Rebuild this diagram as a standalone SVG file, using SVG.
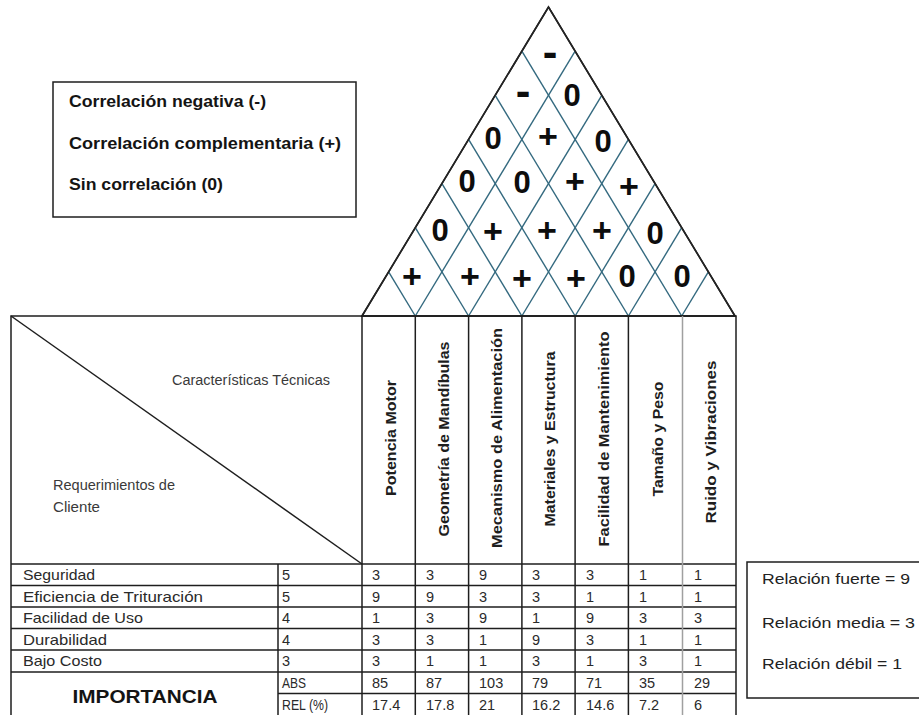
<svg xmlns="http://www.w3.org/2000/svg" width="919" height="715" viewBox="0 0 919 715">
<style>
text{font-family:"Liberation Sans",Arial,sans-serif;}
.frame{fill:none;stroke:#1e1e1e;stroke-width:1.5;}
.roof{fill:#fff;stroke:#232323;stroke-width:1.6;stroke-linejoin:miter;}
.grid{stroke:#33697f;stroke-width:1.4;fill:none;}
.tl{stroke:#1e1e1e;stroke-width:1.5;}
.tlg{stroke:#a0a0a0;stroke-width:1.5;}
.sym{font-weight:bold;font-size:31px;fill:#0d0d0d;text-anchor:middle;}
.plus{font-weight:bold;font-size:34px;fill:#0d0d0d;text-anchor:middle;}
.dash{font-weight:bold;font-size:44px;fill:#0d0d0d;text-anchor:middle;}
.leg{font-weight:bold;font-size:16px;fill:#141414;}
.rleg{font-size:15px;fill:#222;}
.hdr{font-weight:bold;font-size:14.5px;fill:#1e1e1e;text-anchor:middle;}
.cell{font-size:14.5px;fill:#2a2a2a;}
.lbl{font-size:14.5px;fill:#2a2a2a;}
.corner{font-size:14px;fill:#3a3a3a;}
.imp{font-weight:bold;font-size:18px;fill:#141414;text-anchor:middle;}
</style>
<rect x="0" y="0" width="919" height="715" fill="#ffffff"/>

<g id="legend-correlacion">
<rect class="frame" x="53" y="82" width="303" height="135"/>
<text class="leg" x="69" y="107" textLength="197" lengthAdjust="spacingAndGlyphs">Correlación negativa (-)</text>
<text class="leg" x="69" y="149" textLength="272" lengthAdjust="spacingAndGlyphs">Correlación complementaria (+)</text>
<text class="leg" x="69" y="190" textLength="154" lengthAdjust="spacingAndGlyphs">Sin correlación (0)</text>
</g>

<g id="roof">
<polygon class="roof" points="362,316 548.5,7 735,316"/>
<g class="grid">
<line x1="415.29" y1="316" x2="575.14" y2="51.14"/>
<line x1="468.57" y1="316" x2="601.79" y2="95.29"/>
<line x1="521.86" y1="316" x2="628.43" y2="139.43"/>
<line x1="575.14" y1="316" x2="655.07" y2="183.57"/>
<line x1="628.43" y1="316" x2="681.71" y2="227.71"/>
<line x1="681.71" y1="316" x2="708.36" y2="271.86"/>
<line x1="415.29" y1="316" x2="388.64" y2="271.86"/>
<line x1="468.57" y1="316" x2="415.29" y2="227.71"/>
<line x1="521.86" y1="316" x2="441.93" y2="183.57"/>
<line x1="575.14" y1="316" x2="468.57" y2="139.43"/>
<line x1="628.43" y1="316" x2="495.21" y2="95.29"/>
<line x1="681.71" y1="316" x2="521.86" y2="51.14"/>
</g>
<polygon points="362,316 548.5,7 735,316" fill="none" stroke="#232323" stroke-width="1.6"/>
<g id="roof-symbols">
<text class="dash" x="550" y="67">-</text>
<text class="dash" x="523" y="106">-</text>
<text class="sym" x="572" y="106">0</text>
<text class="sym" x="493" y="149">0</text>
<text class="plus" x="548" y="148">+</text>
<text class="sym" x="603" y="152">0</text>
<text class="sym" x="467" y="192">0</text>
<text class="sym" x="522" y="193">0</text>
<text class="plus" x="575" y="193">+</text>
<text class="plus" x="629" y="198">+</text>
<text class="sym" x="440" y="241">0</text>
<text class="plus" x="493" y="243">+</text>
<text class="plus" x="547" y="242">+</text>
<text class="plus" x="602" y="242">+</text>
<text class="sym" x="655" y="244">0</text>
<text class="plus" x="412" y="288">+</text>
<text class="plus" x="470" y="288">+</text>
<text class="plus" x="522" y="290">+</text>
<text class="plus" x="576" y="290">+</text>
<text class="sym" x="627" y="287">0</text>
<text class="sym" x="682" y="287">0</text>
</g>
</g>

<g id="table-lines">
<rect class="frame" x="11" y="316" width="725" height="402"/>
<line class="tl" x1="11" y1="316" x2="362" y2="564"/>
<line class="tl" x1="11" y1="564" x2="736" y2="564"/>
<line class="tl" x1="11" y1="585.5" x2="736" y2="585.5"/>
<line class="tl" x1="11" y1="607" x2="736" y2="607"/>
<line class="tl" x1="11" y1="628.5" x2="736" y2="628.5"/>
<line class="tl" x1="11" y1="650" x2="736" y2="650"/>
<line class="tl" x1="11" y1="672" x2="736" y2="672"/>
<line class="tl" x1="278" y1="693.5" x2="736" y2="693.5"/>
<line class="tl" x1="278" y1="564" x2="278" y2="718"/>
<line class="tl" x1="362" y1="316" x2="362" y2="718"/>
<line class="tl" x1="415.3" y1="316" x2="415.3" y2="718"/>
<line class="tl" x1="468.6" y1="316" x2="468.6" y2="718"/>
<line class="tl" x1="521.9" y1="316" x2="521.9" y2="718"/>
<line class="tl" x1="575.1" y1="316" x2="575.1" y2="718"/>
<line class="tl" x1="628.4" y1="316" x2="628.4" y2="718"/>
<line class="tlg" x1="682.5" y1="316" x2="682.5" y2="718"/>
</g>

<g id="corner-cell">
<text class="corner" x="172" y="385" textLength="158" lengthAdjust="spacingAndGlyphs">Características Técnicas</text>
<text class="corner" x="53" y="490" textLength="122" lengthAdjust="spacingAndGlyphs">Requerimientos de</text>
<text class="corner" x="53" y="512" textLength="47" lengthAdjust="spacingAndGlyphs">Cliente</text>
</g>

<g id="headers">
<text class="hdr" transform="translate(395.5,438) rotate(-90)" textLength="116" lengthAdjust="spacingAndGlyphs">Potencia Motor</text>
<text class="hdr" transform="translate(448.8,439) rotate(-90)" textLength="195" lengthAdjust="spacingAndGlyphs">Geometría de Mandíbulas</text>
<text class="hdr" transform="translate(502,438) rotate(-90)" textLength="220" lengthAdjust="spacingAndGlyphs">Mecanismo de Alimentación</text>
<text class="hdr" transform="translate(555.3,439) rotate(-90)" textLength="175" lengthAdjust="spacingAndGlyphs">Materiales y Estructura</text>
<text class="hdr" transform="translate(608.7,439) rotate(-90)" textLength="215" lengthAdjust="spacingAndGlyphs">Facilidad de Mantenimiento</text>
<text class="hdr" transform="translate(662.5,439) rotate(-90)" textLength="115" lengthAdjust="spacingAndGlyphs">Tamaño y Peso</text>
<text class="hdr" transform="translate(716,442) rotate(-90)" textLength="163" lengthAdjust="spacingAndGlyphs">Ruido y Vibraciones</text>
</g>

<g id="rows">
<text class="lbl" x="23" y="580" textLength="72" lengthAdjust="spacingAndGlyphs">Seguridad</text>
<text class="lbl" x="23" y="601.5" textLength="180" lengthAdjust="spacingAndGlyphs">Eficiencia de Trituración</text>
<text class="lbl" x="23" y="623" textLength="120" lengthAdjust="spacingAndGlyphs">Facilidad de Uso</text>
<text class="lbl" x="23" y="644.5" textLength="84" lengthAdjust="spacingAndGlyphs">Durabilidad</text>
<text class="lbl" x="23" y="666" textLength="79" lengthAdjust="spacingAndGlyphs">Bajo Costo</text>
<text class="imp" x="145" y="703" textLength="145" lengthAdjust="spacingAndGlyphs">IMPORTANCIA</text>
<g class="cell">
<text x="282" y="580">5</text>
<text x="282" y="601.5">5</text>
<text x="282" y="623">4</text>
<text x="282" y="644.5">4</text>
<text x="282" y="666">3</text>
<text x="282" y="688" textLength="24" lengthAdjust="spacingAndGlyphs">ABS</text>
<text x="282" y="710" textLength="46" lengthAdjust="spacingAndGlyphs">REL (%)</text>
</g>
</g>

<g id="matrix" class="cell">
<text x="372" y="580">3</text><text x="426" y="580">3</text><text x="479" y="580">9</text><text x="532" y="580">3</text><text x="586" y="580">3</text><text x="639" y="580">1</text><text x="694" y="580">1</text>
<text x="372" y="601.5">9</text><text x="426" y="601.5">9</text><text x="479" y="601.5">3</text><text x="532" y="601.5">3</text><text x="586" y="601.5">1</text><text x="639" y="601.5">1</text><text x="694" y="601.5">1</text>
<text x="372" y="623">1</text><text x="426" y="623">3</text><text x="479" y="623">9</text><text x="532" y="623">1</text><text x="586" y="623">9</text><text x="639" y="623">3</text><text x="694" y="623">3</text>
<text x="372" y="644.5">3</text><text x="426" y="644.5">3</text><text x="479" y="644.5">1</text><text x="532" y="644.5">9</text><text x="586" y="644.5">3</text><text x="639" y="644.5">1</text><text x="694" y="644.5">1</text>
<text x="372" y="666">3</text><text x="426" y="666">1</text><text x="479" y="666">1</text><text x="532" y="666">3</text><text x="586" y="666">1</text><text x="639" y="666">3</text><text x="694" y="666">1</text>
<text x="372" y="688">85</text><text x="426" y="688">87</text><text x="479" y="688">103</text><text x="532" y="688">79</text><text x="586" y="688">71</text><text x="639" y="688">35</text><text x="694" y="688">29</text>
<text x="372" y="710">17.4</text><text x="426" y="710">17.8</text><text x="479" y="710">21</text><text x="532" y="710">16.2</text><text x="586" y="710">14.6</text><text x="639" y="710">7.2</text><text x="694" y="710">6</text>
</g>

<g id="legend-relacion">
<rect class="frame" x="747" y="562" width="180" height="136"/>
<text class="rleg" x="762" y="584" textLength="148" lengthAdjust="spacingAndGlyphs">Relación fuerte = 9</text>
<text class="rleg" x="762" y="628" textLength="153" lengthAdjust="spacingAndGlyphs">Relación media = 3</text>
<text class="rleg" x="762" y="669" textLength="140" lengthAdjust="spacingAndGlyphs">Relación débil = 1</text>
</g>
</svg>
